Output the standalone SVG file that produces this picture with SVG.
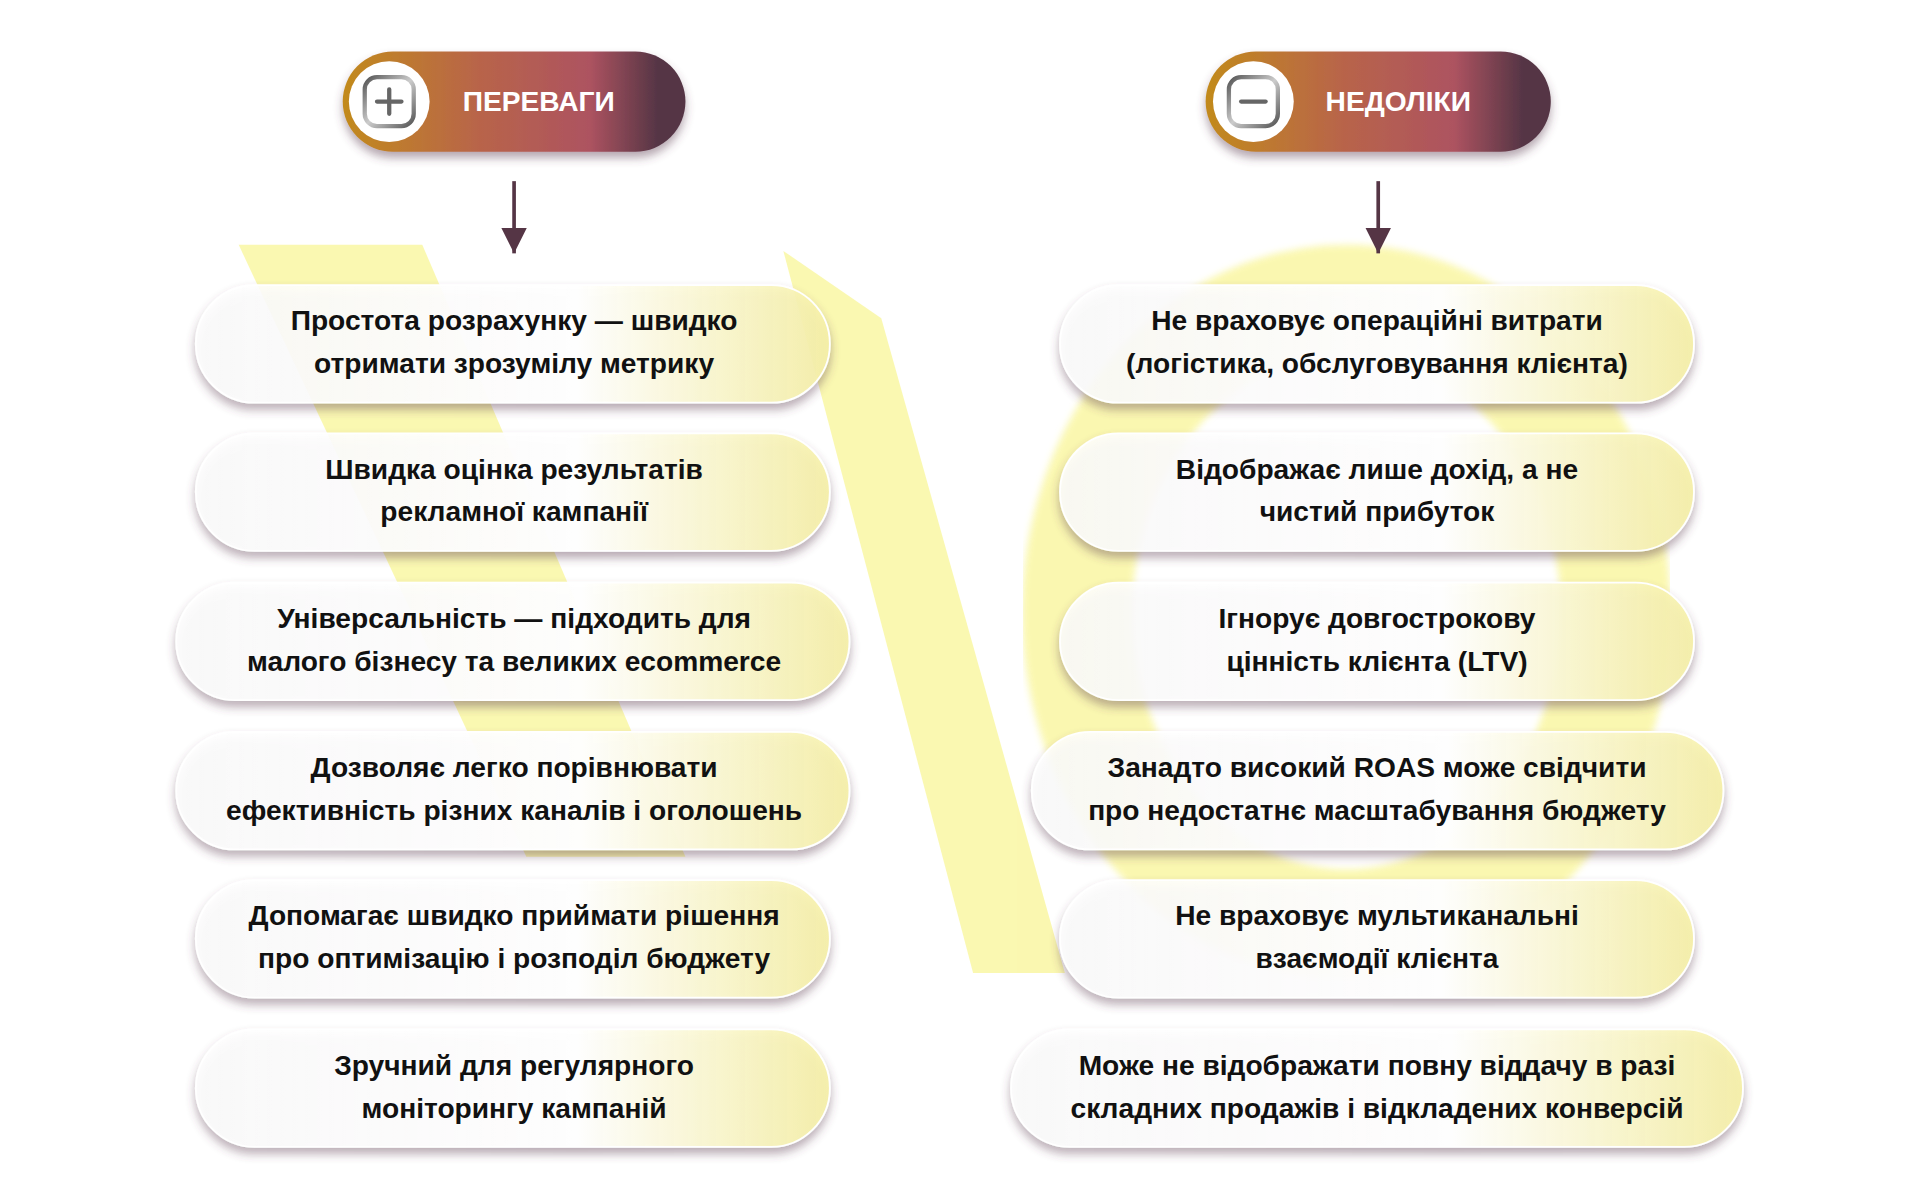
<svg xmlns="http://www.w3.org/2000/svg" width="1920" height="1200" viewBox="0 0 1920 1200">
<defs>
<style>
.t{font-family:"Liberation Sans",Arial,sans-serif;font-weight:bold;font-size:23px;fill:#111;text-anchor:middle}
.h{font-family:"Liberation Sans",Arial,sans-serif;font-weight:bold;font-size:23px;fill:#fff;dominant-baseline:central}
.box{fill:url(#bg);stroke:#fff;stroke-width:1.5;filter:url(#sh)}
</style>
<linearGradient id="hg" x1="0" x2="1" y1="0" y2="0">
<stop offset="0" stop-color="#c28a1c"/><stop offset="0.4" stop-color="#b8644a"/><stop offset="0.72" stop-color="#ad5360"/><stop offset="0.92" stop-color="#553545"/><stop offset="1" stop-color="#553545"/>
</linearGradient>
<linearGradient id="bg" x1="0" x2="1" y1="0" y2="0">
<stop offset="0" stop-color="#fff" stop-opacity="0.85"/><stop offset="0.6" stop-color="#fff" stop-opacity="0.97"/><stop offset="1" stop-color="#f7f1a8" stop-opacity="0.9"/>
</linearGradient>
<linearGradient id="ig" x1="0" x2="1" y1="0" y2="1">
<stop offset="0" stop-color="#555"/><stop offset="0.5" stop-color="#ccc"/><stop offset="1" stop-color="#555"/>
</linearGradient>
<filter id="sh" x="-10%" y="-20%" width="120%" height="150%"><feDropShadow dx="0" dy="5" stdDeviation="4" flood-color="#5a3a50" flood-opacity="0.45"/></filter>
<filter id="bl" x="-10%" y="-10%" width="120%" height="120%"><feGaussianBlur stdDeviation="3"/></filter>
<marker id="ar" viewBox="0 0 10 10" refX="10" refY="5" markerWidth="7" markerHeight="7.5" markerUnits="strokeWidth" orient="auto"><path d="M0,0 L10,5 L0,10 z" fill="#553545"/></marker>
</defs>
<rect width="1920" height="1200" fill="#fff"/>
<g transform="scale(1.224)">
<g id="background" fill="#faf7a8" opacity="0.9">
<polygon points="195,200 345,200 560,700 430,700"/>
<polygon points="640,205 720,260 870,795 795,795"/>
<ellipse cx="1100" cy="500" rx="220" ry="255" fill="none" stroke="#faf7a8" stroke-width="90" filter="url(#bl)"/>
</g>
<g id="header-pros">
<rect x="280" y="42" width="280" height="82" rx="41" fill="url(#hg)" filter="url(#sh)"/>
<circle cx="318" cy="83" r="33" fill="#fff"/>
<rect x="298" y="63" width="40" height="40" rx="10" fill="none" stroke="url(#ig)" stroke-width="3.5"/>
<path d="M318,73 V93 M308,83 H328" stroke="#666" stroke-width="3.5" stroke-linecap="round"/>
<text class="h" x="378" y="83">ПЕРЕВАГИ</text>
</g>
<g id="header-cons">
<rect x="985" y="42" width="282" height="82" rx="41" fill="url(#hg)" filter="url(#sh)"/>
<circle cx="1024" cy="83" r="33" fill="#fff"/>
<rect x="1004" y="63" width="40" height="40" rx="10" fill="none" stroke="url(#ig)" stroke-width="3.5"/>
<path d="M1014,83 H1034" stroke="#666" stroke-width="3.5" stroke-linecap="round"/>
<text class="h" x="1083" y="83">НЕДОЛІКИ</text>
</g>
<g id="connectors" stroke="#553545" stroke-width="3">
<line x1="420" y1="148" x2="420" y2="207" marker-end="url(#ar)"/>
<line x1="1126" y1="148" x2="1126" y2="207" marker-end="url(#ar)"/>
</g>
<g id="p1"><rect class="box" x="160" y="233" width="518" height="96" rx="48"/><text class="t" x="420" y="270">Простота розрахунку — швидко</text><text class="t" x="420" y="305">отримати зрозумілу метрику</text></g>
<g id="p2"><rect class="box" x="160" y="354" width="518" height="96" rx="48"/><text class="t" x="420" y="391">Швидка оцінка результатів</text><text class="t" x="420" y="426">рекламної кампанії</text></g>
<g id="p3"><rect class="box" x="144" y="476" width="550" height="96" rx="48"/><text class="t" x="420" y="513">Універсальність — підходить для</text><text class="t" x="420" y="548">малого бізнесу та великих ecommerce</text></g>
<g id="p4"><rect class="box" x="144" y="598" width="550" height="96" rx="48"/><text class="t" x="420" y="635">Дозволяє легко порівнювати</text><text class="t" x="420" y="670">ефективність різних каналів і оголошень</text></g>
<g id="p5"><rect class="box" x="160" y="719" width="518" height="96" rx="48"/><text class="t" x="420" y="756">Допомагає швидко приймати рішення</text><text class="t" x="420" y="791">про оптимізацію і розподіл бюджету</text></g>
<g id="p6"><rect class="box" x="160" y="841" width="518" height="96" rx="48"/><text class="t" x="420" y="878">Зручний для регулярного</text><text class="t" x="420" y="913">моніторингу кампаній</text></g>
<g id="c1"><rect class="box" x="866" y="233" width="518" height="96" rx="48"/><text class="t" x="1125" y="270">Не враховує операційні витрати</text><text class="t" x="1125" y="305">(логістика, обслуговування клієнта)</text></g>
<g id="c2"><rect class="box" x="866" y="354" width="518" height="96" rx="48"/><text class="t" x="1125" y="391">Відображає лише дохід, а не</text><text class="t" x="1125" y="426">чистий прибуток</text></g>
<g id="c3"><rect class="box" x="866" y="476" width="518" height="96" rx="48"/><text class="t" x="1125" y="513">Ігнорує довгострокову</text><text class="t" x="1125" y="548">цінність клієнта (LTV)</text></g>
<g id="c4"><rect class="box" x="843" y="598" width="565" height="96" rx="48"/><text class="t" x="1125" y="635">Занадто високий ROAS може свідчити</text><text class="t" x="1125" y="670">про недостатнє масштабування бюджету</text></g>
<g id="c5"><rect class="box" x="866" y="719" width="518" height="96" rx="48"/><text class="t" x="1125" y="756">Не враховує мультиканальні</text><text class="t" x="1125" y="791">взаємодії клієнта</text></g>
<g id="c6"><rect class="box" x="826" y="841" width="598" height="96" rx="48"/><text class="t" x="1125" y="878">Може не відображати повну віддачу в разі</text><text class="t" x="1125" y="913">складних продажів і відкладених конверсій</text></g>
</g>
</svg>
